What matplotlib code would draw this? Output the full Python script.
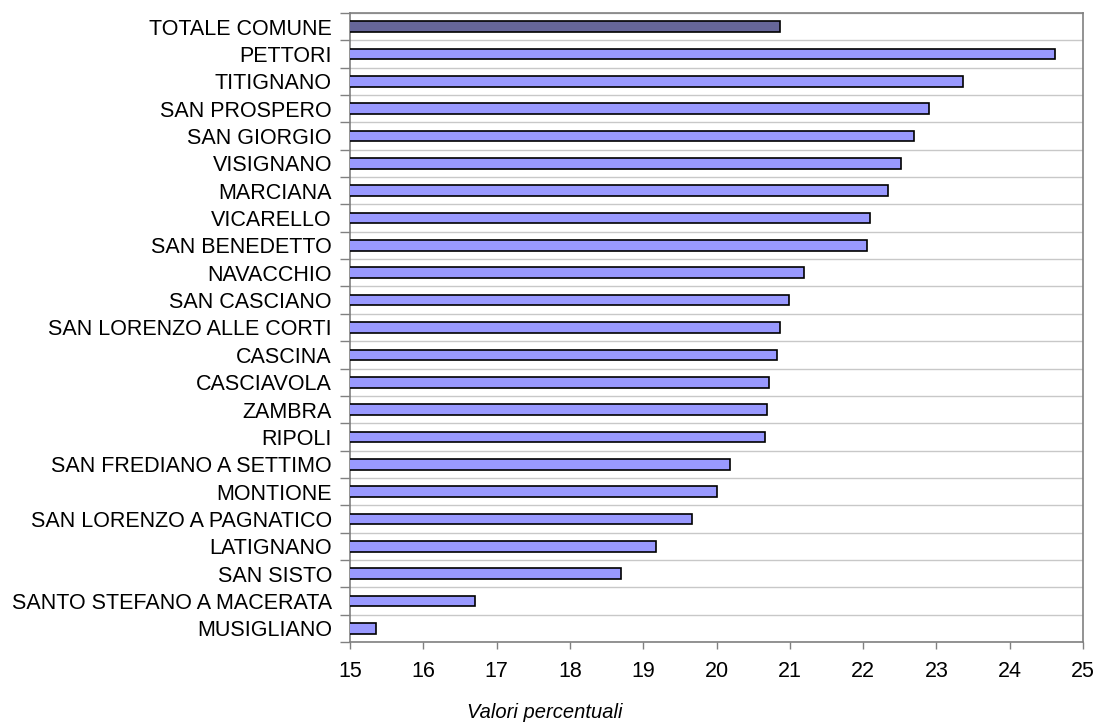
import matplotlib
matplotlib.use("Agg")
import matplotlib.pyplot as plt
import numpy as np

categories = ["TOTALE COMUNE", "PETTORI", "TITIGNANO", "SAN PROSPERO", "SAN GIORGIO",
              "VISIGNANO", "MARCIANA", "VICARELLO", "SAN BENEDETTO", "NAVACCHIO",
              "SAN CASCIANO", "SAN LORENZO ALLE CORTI", "CASCINA", "CASCIAVOLA",
              "ZAMBRA", "RIPOLI", "SAN FREDIANO A SETTIMO", "MONTIONE",
              "SAN LORENZO A PAGNATICO", "LATIGNANO", "SAN SISTO",
              "SANTO STEFANO A MACERATA", "MUSIGLIANO"]
values = [20.87, 24.62, 23.36, 22.90, 22.70, 22.52, 22.34, 22.10, 22.06, 21.20,
          20.99, 20.86, 20.82, 20.71, 20.69, 20.66, 20.18, 20.01, 19.67, 19.17,
          18.70, 16.71, 15.35]
x_ticks = [15, 16, 17, 18, 19, 20, 21, 22, 23, 24, 25]

plt.rcParams['font.family'] = ['Liberation Sans', 'DejaVu Sans']

fig = plt.figure(figsize=(10.95, 7.22), dpi=100)
ax = fig.add_axes([350/1095, 1-642/722, (1083-350)/1095, (642-13)/722])

n = len(categories)
y = np.arange(n)
colors = ['#666699'] + ['#9999FF'] * (n - 1)
ax.barh(y, values, height=0.39, color=colors, edgecolor='black', linewidth=1.2, zorder=3)

ax.set_xlim(15, 25)
ax.set_ylim(n - 0.5, -0.5)
ax.set_xticks(x_ticks)
ax.set_xticklabels([str(t) for t in x_ticks], fontsize=15.5)
ax.set_yticks(y)
ax.set_yticklabels(categories, fontsize=15.5)
ax.set_yticks(np.arange(-0.5, n, 1.0), minor=True)
ax.tick_params(axis='y', which='major', length=0, pad=13)
ax.tick_params(axis='y', which='minor', length=7, color='#808080', width=1)
ax.tick_params(axis='x', which='major', length=5, color='#808080', width=1, pad=9)
ax.grid(axis='y', which='minor', color='#c8c8c8', linewidth=1, zorder=0)
ax.grid(axis='x', which='major', visible=False)
for s in ax.spines.values():
    s.set_color('#808080')
    s.set_linewidth(1.2)

fig.text(545/1095, 1-712/722, 'Valori percentuali', fontsize=14.5, style='italic',
         ha='center', va='center')

fig.savefig('out.png', dpi=100)
